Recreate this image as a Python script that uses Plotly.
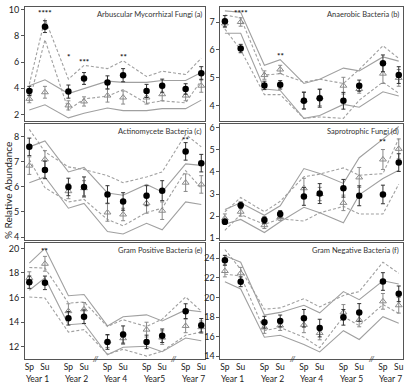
import plotly.graph_objects as go

xs = [0, 1, 2.5, 3.5, 5, 6, 7.5, 8.5, 10, 11]
season = ["Sp", "Su"] * 5
years_e = ["Year 1", "Year 2", "Year 4", "Year5", "Year 7"]
years_f = ["Year 1", "Year 2", "Year 4", "Year 5", "Year 7"]
year_centers = [0.5, 3.0, 5.5, 8.0, 10.5]

titles = ["Arbuscular Mycorrhizal Fungi (a)", "Anaerobic Bacteria (b)",
          "Actinomycete Bacteria (c)", "Saprotrophic Fungi (d)",
          "Gram Positive Bacteria (e)", "Gram Negative Bacteria (f)"]

# panel (a)
a_circ = [3.8, 8.7, 3.75, 4.75, 4.45, 5.0, 3.8, 4.2, 3.95, 5.15]
a_circ_err = [0.35, 0.45, 0.5, 0.45, 0.5, 0.5, 0.5, 0.5, 0.4, 0.5]
a_tri = [3.2, 3.7, 2.7, 3.0, 3.45, 3.3, 3.3, 3.55, 3.45, 4.2]
a_tri_err = [0.3, 0.45, 0.35, 0.35, 0.5, 0.5, 0.5, 0.5, 0.4, 0.5]
a_sol_hi = [4.2, 4.65, 3.6, 4.0, 4.55, 4.45, 4.45, 4.6, 4.6, 5.2]
a_sol_lo = [2.35, 2.75, 1.75, 2.1, 2.5, 2.3, 2.3, 2.45, 2.45, 3.1]
a_dash_hi = [4.3, 9.3, 4.7, 5.75, 5.5, 6.1, 4.9, 5.3, 5.05, 6.3]
a_dash_lo = [3.0, 7.7, 2.35, 3.2, 3.4, 3.9, 2.85, 3.05, 2.9, 4.6]

# panel (b)
b_circ = [7.03, 6.05, 4.73, 4.75, 4.18, 4.27, 4.18, 4.72, 5.52, 5.1]
b_circ_err = [0.2, 0.15, 0.15, 0.15, 0.3, 0.32, 0.3, 0.2, 0.3, 0.3]
b_tri = [6.95, 7.0, 5.1, 5.3, 4.2, 4.3, 4.72, 4.6, 5.15, 5.0]
b_tri_err = [0.15, 0.15, 0.15, 0.15, 0.3, 0.3, 0.3, 0.15, 0.35, 0.3]
b_sol_hi = [7.4, 7.35, 5.45, 5.65, 4.8, 4.95, 5.35, 5.25, 5.75, 5.6]
b_sol_lo = [6.6, 6.6, 4.6, 4.55, 3.55, 3.65, 4.05, 3.95, 4.5, 4.35]
b_dash_hi = [7.25, 7.15, 5.1, 5.15, 4.85, 4.95, 4.8, 5.3, 6.15, 5.7]
b_dash_lo = [6.75, 6.0, 4.4, 4.4, 3.55, 3.6, 3.55, 4.2, 4.85, 4.45]

# panel (c)
c_circ = [7.6, 6.68, 6.0, 6.0, 5.7, 5.42, 5.65, 5.85, 7.42, 6.95]
c_circ_err = [0.35, 0.35, 0.35, 0.4, 0.35, 0.35, 0.4, 0.4, 0.35, 0.35]
c_tri = [6.85, 7.1, 5.83, 5.95, 4.98, 4.9, 5.35, 5.05, 6.17, 6.1]
c_tri_err = [0.35, 0.35, 0.3, 0.3, 0.35, 0.25, 0.4, 0.35, 0.35, 0.35]
c_sol_hi = [7.6, 7.84, 6.6, 6.78, 5.76, 5.67, 6.1, 5.8, 6.92, 6.86]
c_sol_lo = [6.17, 6.4, 5.15, 5.34, 4.22, 4.12, 4.55, 4.29, 5.4, 5.3]
c_dash_hi = [8.3, 7.4, 6.8, 6.7, 6.45, 6.17, 6.4, 6.6, 8.1, 7.6]
c_dash_lo = [7.1, 5.97, 5.4, 5.5, 4.7, 4.45, 4.98, 5.15, 6.65, 5.95]

# panel (d)
d_circ = [1.75, 2.49, 1.82, 2.1, 2.89, 3.02, 3.26, 2.92, 2.98, 4.42]
d_circ_err = [0.12, 0.15, 0.15, 0.15, 0.4, 0.45, 0.4, 0.45, 0.42, 0.4]
d_tri = [1.9, 2.2, 1.59, 1.96, 3.26, 3.0, 2.6, 3.75, 4.56, 5.04]
d_tri_err = [0.2, 0.2, 0.15, 0.15, 0.45, 0.3, 0.35, 0.45, 0.45, 0.45]
d_sol_hi = [2.3, 2.6, 2.04, 2.47, 4.15, 3.93, 3.48, 4.64, 5.48, 6.05]
d_sol_lo = [1.63, 1.85, 1.26, 1.75, 2.4, 2.15, 1.7, 2.96, 3.7, 4.07]
d_dash_hi = [2.2, 2.84, 2.2, 2.67, 3.78, 3.9, 4.18, 3.85, 3.92, 5.5]
d_dash_lo = [1.36, 2.07, 1.63, 1.88, 1.78, 2.15, 2.44, 2.1, 2.1, 3.44]

# panel (e)
e_circ = [17.25, 17.2, 14.32, 14.45, 12.4, 13.0, 12.4, 12.9, 14.9, 13.75]
e_circ_err = [0.5, 0.55, 0.55, 0.55, 0.6, 0.7, 0.55, 0.55, 0.6, 0.55]
e_tri = [17.6, 18.75, 14.9, 15.05, 12.45, 12.7, 13.4, 12.75, 13.7, 13.6]
e_tri_err = [0.5, 0.6, 0.6, 0.55, 0.5, 0.5, 0.6, 0.55, 0.55, 0.5]
e_sol_hi = [18.8, 20.0, 16.15, 16.25, 13.7, 14.45, 14.6, 14.1, 15.0, 14.85]
e_sol_lo = [16.6, 17.6, 13.8, 13.9, 11.35, 11.97, 12.05, 11.6, 12.72, 12.5]
e_dash_hi = [18.45, 18.4, 15.55, 15.65, 13.65, 14.2, 13.65, 14.25, 16.05, 14.9]
e_dash_lo = [16.05, 15.97, 13.2, 13.4, 11.4, 11.8, 11.25, 11.65, 12.93, 13.2]

# panel (f)
f_circ = [23.8, 21.6, 17.47, 17.6, 17.87, 16.87, 17.97, 18.47, 21.63, 20.37]
f_circ_err = [0.5, 0.5, 0.6, 0.6, 0.9, 0.9, 0.8, 0.9, 0.9, 0.8]
f_tri = [22.7, 22.47, 16.93, 17.13, 17.2, 16.37, 18.47, 17.7, 19.6, 19.2]
f_tri_err = [0.6, 0.6, 0.6, 0.5, 0.8, 0.7, 0.8, 0.7, 0.8, 0.8]
f_sol_hi = [24.27, 23.6, 18.2, 18.47, 19.2, 18.43, 20.6, 19.77, 21.7, 21.37]
f_sol_lo = [21.6, 20.87, 15.93, 16.13, 15.2, 14.43, 16.6, 15.7, 18.03, 17.37]
f_dash_hi = [24.9, 22.87, 18.8, 18.93, 19.87, 19.03, 20.2, 20.6, 23.6, 22.47]
f_dash_lo = [22.37, 22.2, 16.6, 16.93, 15.93, 14.87, 18.03, 17.13, 19.27, 18.37]

# significance stars: (panel, x, y, text)
stars = [
    (0, 1, 9.75, "****"), (0, 2.5, 6.35, "*"), (0, 3.5, 6.0, "***"), (0, 6, 6.35, "**"),
    (1, 1, 7.33, "****"), (1, 3.5, 5.8, "**"),
    (2, 10, 7.86, "**"),
    (3, 10, 5.33, "**"),
    (4, 1, 19.8, "**"),
]

panels = [
    (a_circ, a_circ_err, a_tri, a_tri_err, a_sol_hi, a_sol_lo, a_dash_hi, a_dash_lo),
    (b_circ, b_circ_err, b_tri, b_tri_err, b_sol_hi, b_sol_lo, b_dash_hi, b_dash_lo),
    (c_circ, c_circ_err, c_tri, c_tri_err, c_sol_hi, c_sol_lo, c_dash_hi, c_dash_lo),
    (d_circ, d_circ_err, d_tri, d_tri_err, d_sol_hi, d_sol_lo, d_dash_hi, d_dash_lo),
    (e_circ, e_circ_err, e_tri, e_tri_err, e_sol_hi, e_sol_lo, e_dash_hi, e_dash_lo),
    (f_circ, f_circ_err, f_tri, f_tri_err, f_sol_hi, f_sol_lo, f_dash_hi, f_dash_lo),
]

y_ranges = [[1.5, 10.2], [3.45, 7.54], [3.87, 8.51], [0.91, 6.16], [10.98, 20.42], [13.67, 25.54]]
y_ticks = [[2, 4, 6, 8, 10], [4, 5, 6, 7], [4, 5, 6, 7, 8], [1, 2, 3, 4, 5, 6],
           [12, 14, 16, 18, 20], [14, 16, 18, 20, 22, 24]]

W, H = 407, 387
col_px = [(25, 206), (221, 404)]
row_px = [(4, 120), (123, 241), (244, 362)]

FONT = "Lato, Liberation Sans, sans-serif"
fig = go.Figure()
LINE = "#a0a0a0"
AXC = "#555555"

for i, p in enumerate(panels):
    circ, circ_err, tri, tri_err, shi, slo, dhi, dlo = p
    ax = "" if i == 0 else str(i + 1)
    xr, yr = "x" + ax, "y" + ax
    for ys, dash in [(shi, "solid"), (slo, "solid"), (dhi, "dash"), (dlo, "dash")]:
        fig.add_trace(go.Scatter(x=xs, y=ys, mode="lines", xaxis=xr, yaxis=yr,
                                 line=dict(color=LINE, width=1.1, dash="solid" if dash == "solid" else "3px,2px"),
                                 showlegend=False, hoverinfo="skip"))
    fig.add_trace(go.Scatter(x=xs, y=tri, mode="markers", xaxis=xr, yaxis=yr,
                             marker=dict(symbol="triangle-up-open", size=6, color="#8a8a8a", line=dict(width=1)),
                             error_y=dict(type="data", array=tri_err, color="#8a8a8a", thickness=1, width=2),
                             showlegend=False))
    fig.add_trace(go.Scatter(x=xs, y=circ, mode="markers", xaxis=xr, yaxis=yr,
                             marker=dict(symbol="circle", size=6.5, color="#000000"),
                             error_y=dict(type="data", array=circ_err, color="#333333", thickness=1, width=2),
                             showlegend=False))

layout = dict(width=W, height=H, margin=dict(l=0, r=0, t=0, b=0),
              paper_bgcolor="white", plot_bgcolor="white",
              font=dict(family=FONT, color="#333333"))
annotations = []
for i in range(6):
    r, c = divmod(i, 2)
    x0, x1 = col_px[c]
    y0, y1 = row_px[r]
    ax = "" if i == 0 else str(i + 1)
    xdom = [x0 / W, x1 / W]
    ydom = [1 - y1 / H, 1 - y0 / H]
    xa = dict(domain=xdom, range=[-0.28, 11.27], showgrid=False, zeroline=False,
              showline=True, mirror=True, linecolor=AXC, linewidth=1,
              anchor="y" + ax, fixedrange=True)
    if r == 2:
        xa.update(tickmode="array", tickvals=xs, ticktext=season, ticks="",
                  tickfont=dict(size=8.5, color="#222222"), showticklabels=True,
                  ticklabelstandoff=-1)
    else:
        xa.update(showticklabels=False, ticks="")
    ya = dict(domain=ydom, range=y_ranges[i], showgrid=False, zeroline=False,
              showline=True, mirror=True, linecolor=AXC, linewidth=1,
              anchor="x" + ax, tickmode="array", tickvals=y_ticks[i],
              ticks="outside", ticklen=3, tickcolor=AXC,
              tickfont=dict(size=9, color="#222222"), fixedrange=True)
    layout["xaxis" + ax] = xa
    layout["yaxis" + ax] = ya
    annotations.append(dict(text=titles[i], xref="x" + ax + " domain", yref="y" + ax + " domain",
                            x=0.99, y=0.99, xanchor="right", yanchor="top", showarrow=False,
                            font=dict(size=7.5, color="#333333")))
    if r == 2:
        yrs = years_e if c == 0 else years_f
        for yc, yt in zip(year_centers, yrs):
            annotations.append(dict(text=yt, xref="x" + ax, yref="paper", x=yc, y=1 - 381.5 / H,
                                    xanchor="center", yanchor="middle", showarrow=False,
                                    font=dict(size=8.5, color="#222222")))
        for bx in [4.25, 9.25]:
            annotations.append(dict(text="<i>//</i>", xref="x" + ax, yref="y" + ax + " domain",
                                    x=bx, y=0, xanchor="center", yanchor="middle", showarrow=False,
                                    font=dict(size=8, color="#333333")))

for (pi, sx, sy, st) in stars:
    ax = "" if pi == 0 else str(pi + 1)
    annotations.append(dict(text="<b>" + st + "</b>", xref="x" + ax, yref="y" + ax, x=sx, y=sy,
                            xanchor="center", yanchor="middle", showarrow=False,
                            font=dict(size=8, color="#111111")))

annotations.append(dict(text="% Relative Abundance", xref="paper", yref="paper",
                        x=8 / W, y=1 - 190 / H, textangle=-90, xanchor="center", yanchor="middle",
                        showarrow=False, font=dict(size=10, color="#222222")))
layout["annotations"] = annotations
fig.update_layout(**layout)
fig.write_html("out.html")
